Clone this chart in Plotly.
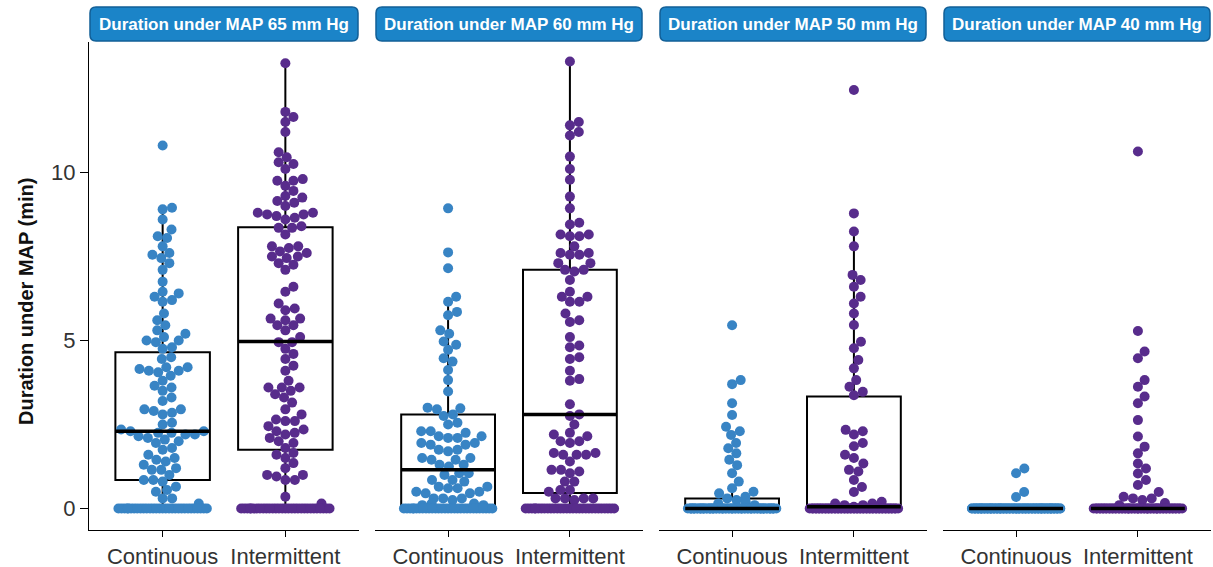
import numpy as np
import plotly.graph_objects as go

# ---------------- data ----------------
panel_titles = ["Duration under MAP 65 mm Hg", "Duration under MAP 60 mm Hg",
                "Duration under MAP 50 mm Hg", "Duration under MAP 40 mm Hg"]
group_labels = ["Continuous", "Intermittent"]

cont_65 = [10.8, 8.95, 8.9, 8.6, 8.3, 8.1, 8.05, 7.8, 7.6, 7.55, 7.45, 7.3, 7.1, 6.75, 6.45, 6.4,
           6.3, 6.2, 6.15, 5.8, 5.6, 5.45, 5.3, 5.2, 5.1, 5.0, 5.0, 4.95, 4.8, 4.75, 4.5, 4.45,
           4.2, 4.2, 4.15, 4.1, 4.1, 4.05, 3.95, 3.8, 3.65, 3.6, 3.5, 3.3, 3.2, 2.95, 2.95, 2.9,
           2.85, 2.8, 2.55, 2.5, 2.35, 2.3, 2.3, 2.25, 2.25, 2.2, 2.2, 2.15, 2.1, 2.05, 2.0, 1.95,
           1.8, 1.75, 1.6, 1.5, 1.45, 1.4, 1.3, 1.2, 1.15, 1.15, 1.0, 0.85, 0.85, 0.8, 0.65, 0.55,
           0.5, 0.3, 0.3, 0.15,
           0, 0, 0, 0, 0, 0, 0, 0, 0, 0, 0, 0, 0, 0, 0, 0, 0, 0, 0, 0, 0, 0, 0, 0, 0, 0, 0, 0,
           0, 0]
int_65 = [13.25, 11.8, 11.65, 11.5, 11.2, 10.6, 10.45, 10.3, 10.25, 10.1, 9.8, 9.75, 9.75, 9.6,
          9.45, 9.3, 9.25, 9.15, 9.1, 9.0, 8.8, 8.8, 8.75, 8.75, 8.7, 8.65, 8.6, 8.4, 8.35, 8.35,
          8.15, 7.8, 7.8, 7.75, 7.65, 7.6, 7.5, 7.5, 7.45, 7.3, 7.25, 7.1, 6.6, 6.45, 6.1, 5.95,
          5.9, 5.65, 5.65, 5.6, 5.45, 5.45, 5.3, 5.1, 4.95, 4.95, 4.75, 4.6, 4.45, 4.25, 4.1, 3.8,
          3.6, 3.6, 3.6, 3.5, 3.4, 3.3, 3.15, 2.95, 2.8, 2.65, 2.6, 2.6, 2.45, 2.35, 2.3, 2.25,
          2.2, 2.1, 2.0, 1.95, 1.8, 1.65, 1.6, 1.5, 1.35, 1.2, 1.0, 1.0, 0.95, 0.85, 0.85, 0.35, 0.15,
          0, 0, 0, 0, 0, 0, 0, 0, 0, 0, 0, 0, 0, 0, 0, 0, 0, 0, 0, 0, 0, 0, 0, 0, 0, 0, 0, 0,
          0, 0]
cont_60 = [8.93, 7.62, 7.15, 6.3, 6.15, 5.85, 5.75, 5.3, 5.2, 4.97, 4.87, 4.72, 4.47, 4.37, 4.12,
           3.82, 3.48, 3.0, 2.98, 2.95, 2.8, 2.75, 2.55, 2.5, 2.3, 2.3, 2.25, 2.15, 2.15, 2.1, 2.1,
           1.95, 1.95, 1.9, 1.9, 1.75, 1.75, 1.7, 1.5, 1.5, 1.45, 1.45, 1.3, 1.3, 1.25, 1.05, 1.05,
           1.0, 0.85, 0.85, 0.8, 0.65, 0.65, 0.6, 0.6, 0.5, 0.5, 0.45, 0.45, 0.3, 0.3, 0.3, 0.25,
           0.15, 0.15, 0.1, 0.1,
           0, 0, 0, 0, 0, 0, 0, 0, 0, 0, 0, 0, 0, 0, 0, 0, 0, 0, 0, 0, 0, 0, 0, 0, 0, 0, 0, 0,
           0, 0]
int_60 = [13.3, 11.5, 11.4, 11.2, 11.1, 10.47, 10.1, 9.78, 9.28, 8.93, 8.5, 8.45, 8.15, 8.15, 8.1,
          8.1, 7.8, 7.6, 7.6, 7.55, 7.55, 7.3, 7.3, 7.1, 7.1, 7.05, 6.8, 6.45, 6.3, 6.3, 6.15, 6.15,
          5.8, 5.6, 5.55, 5.1, 4.85, 4.8, 4.5, 4.45, 4.1, 3.85, 3.8, 3.1, 2.8, 2.75, 2.5, 2.25, 2.2,
          2.15, 2.0, 2.0, 1.95, 1.65, 1.65, 1.6, 1.6, 1.6, 1.4, 1.15, 1.15, 1.1, 1.05, 0.8, 0.8,
          0.55, 0.55, 0.5, 0.3, 0.3, 0.3, 0.3, 0.25,
          0, 0, 0, 0, 0, 0, 0, 0, 0, 0, 0, 0, 0, 0, 0, 0, 0, 0, 0, 0, 0, 0, 0, 0, 0, 0, 0, 0,
          0, 0]
cont_50 = [5.45, 3.82, 3.7, 3.13, 2.78, 2.43, 2.3, 2.19, 1.95, 1.79, 1.64, 1.45, 1.29, 1.05, 0.8,
           0.6, 0.5, 0.45, 0.35, 0.3, 0.25, 0.2, 0.15, 0.1,
           0, 0, 0, 0, 0, 0, 0, 0, 0, 0, 0, 0, 0, 0, 0, 0, 0, 0, 0, 0, 0, 0, 0, 0, 0, 0, 0, 0, 0, 0,
           0, 0, 0, 0, 0, 0, 0, 0, 0, 0, 0, 0, 0, 0, 0, 0, 0, 0, 0, 0, 0, 0, 0, 0, 0, 0, 0, 0, 0, 0,
           0, 0, 0, 0, 0, 0, 0, 0, 0, 0]
int_50 = [12.45, 8.78, 8.24, 7.8, 6.95, 6.8, 6.6, 6.3, 6.1, 5.8, 5.46, 4.96, 4.77, 4.42, 4.17, 3.82,
          3.62, 3.47, 3.37, 2.34, 2.3, 2.2, 1.95, 1.85, 1.6, 1.5, 1.34, 1.15, 1.1, 0.85, 0.64, 0.49,
          0.2, 0.15, 0.15, 0.1, 0.1, 0.05,
          0, 0, 0, 0, 0, 0, 0, 0, 0, 0, 0, 0, 0, 0, 0, 0, 0, 0, 0, 0, 0, 0, 0, 0, 0, 0, 0, 0, 0, 0,
          0, 0, 0, 0, 0, 0, 0, 0, 0, 0, 0, 0, 0, 0, 0, 0, 0, 0, 0, 0, 0, 0, 0, 0, 0, 0]
cont_40 = [1.19, 1.05, 0.49, 0.34,
           0, 0, 0, 0, 0, 0, 0, 0, 0, 0, 0, 0, 0, 0, 0, 0, 0, 0, 0, 0, 0, 0, 0, 0, 0, 0, 0, 0, 0, 0,
           0, 0, 0, 0, 0, 0, 0, 0, 0, 0, 0, 0, 0, 0, 0, 0, 0, 0, 0, 0, 0, 0, 0, 0, 0, 0, 0, 0, 0, 0,
           0, 0, 0, 0, 0, 0, 0, 0, 0, 0, 0, 0, 0, 0, 0, 0, 0, 0, 0, 0, 0, 0, 0, 0, 0, 0, 0, 0, 0, 0]
int_40 = [10.62, 5.28, 4.67, 4.47, 3.82, 3.62, 3.33, 3.13, 2.63, 2.14, 1.84, 1.64, 1.34, 1.19, 1.04,
          0.85, 0.7, 0.49, 0.35, 0.3, 0.3, 0.25, 0.16, 0.1,
          0, 0, 0, 0, 0, 0, 0, 0, 0, 0, 0, 0, 0, 0, 0, 0, 0, 0, 0, 0, 0, 0, 0, 0, 0, 0, 0, 0, 0, 0,
          0, 0, 0, 0, 0, 0, 0, 0, 0, 0, 0, 0, 0, 0, 0, 0, 0, 0, 0, 0, 0, 0, 0, 0, 0, 0, 0, 0, 0, 0]

# box statistics: [lower whisker, Q1, median, Q3, upper whisker]
box_cont_65 = [0, 0.85, 2.3, 4.65, 8.95]
box_int_65 = [0, 1.75, 4.97, 8.37, 13.25]
box_cont_60 = [0, 0, 1.15, 2.8, 6.25]
box_int_60 = [0, 0.46, 2.8, 7.1, 13.3]
box_cont_50 = [0, 0, 0, 0.3, 0.6]
box_int_50 = [0, 0, 0.05, 3.33, 8.24]
box_cont_40 = [0, 0, 0, 0, 0]
box_int_40 = [0, 0, 0, 0, 0]

y_ticks = [0, 5, 10]

panel_values = [(cont_65, int_65), (cont_60, int_60), (cont_50, int_50), (cont_40, int_40)]
panel_boxes = [(box_cont_65, box_int_65), (box_cont_60, box_int_60),
               (box_cont_50, box_int_50), (box_cont_40, box_int_40)]

# ---------------- layout geometry ----------------
FIG_W, FIG_H = 1213, 567
M_L, M_R, M_T, M_B = 89, 2, 42, 37
PLOT_W = FIG_W - M_L - M_R
PLOT_H = FIG_H - M_T - M_B
Y_RANGE = [-0.64, 13.88]
X_RANGE = [-0.6, 1.6]
panel_px = [(89, 359), (375, 643), (659, 927), (943, 1211)]
BOX_W = 0.77
DOT = 10
SWARM_D = 9.5
BAND_HALF = 44.3   # half width (px) of the swarm band for the dot centres
colors = ["#3884c4", "#582c8c"]
FONT = "Liberation Sans, Arial, sans-serif"

px_per_y = PLOT_H / (Y_RANGE[1] - Y_RANGE[0])


def swarm_offsets(values, d, half_w):
    vals = np.asarray(values, dtype=float)
    ys = vals * px_per_y
    xs = np.zeros(len(vals))
    order = np.argsort(vals, kind="stable")
    placed = []
    for idx in order:
        y = ys[idx]
        nb = [(xs[j], ys[j]) for j in placed if abs(ys[j] - y) < d]
        cands = [0.0]
        for xj, yj in nb:
            dx = np.sqrt(d * d - (yj - y) ** 2)
            cands += [xj + dx, xj - dx]
        cands.sort(key=lambda c: (abs(c), -c))
        for c in cands:
            if all((c - xj) ** 2 + (yj - y) ** 2 >= d * d - 1e-6 for xj, yj in nb):
                xs[idx] = c
                break
        placed.append(idx)
    # wrap points that would leave the band back inside it
    out = np.where(np.abs(xs) > half_w, ((xs + half_w) % (2 * half_w)) - half_w, xs)
    return out


fig = go.Figure()
layout_axes = {}
for p in range(4):
    a, b = panel_px[p]
    xname = "x" if p == 0 else f"x{p+1}"
    yname = "y" if p == 0 else f"y{p+1}"
    px_per_x = (b - a) / (X_RANGE[1] - X_RANGE[0])
    # dots
    for g in range(2):
        vals = panel_values[p][g]
        offs = swarm_offsets(vals, SWARM_D, BAND_HALF) / px_per_x
        fig.add_trace(go.Scatter(
            x=g + offs, y=vals, mode="markers", xaxis=xname, yaxis=yname,
            marker=dict(size=DOT, color=colors[g], line=dict(width=0)),
            showlegend=False, hoverinfo="y"))
    # boxes
    for g in range(2):
        lo, q1, med, q3, hi = panel_boxes[p][g]
        fig.add_trace(go.Box(
            x=[g], q1=[q1], median=[med], q3=[q3], lowerfence=[lo], upperfence=[hi],
            width=BOX_W, whiskerwidth=0, boxpoints=False, xaxis=xname, yaxis=yname,
            line=dict(color="black", width=2), fillcolor="rgba(0,0,0,0)",
            showlegend=False, hoverinfo="skip"))
        fig.add_trace(go.Scatter(
            x=[g - BOX_W / 2, g + BOX_W / 2], y=[med, med], mode="lines",
            xaxis=xname, yaxis=yname, line=dict(color="black", width=3.5),
            showlegend=False, hoverinfo="skip"))

    dom = [(a - M_L) / PLOT_W, (b - M_L) / PLOT_W]
    layout_axes["xaxis" if p == 0 else f"xaxis{p+1}"] = dict(
        domain=dom, anchor=yname, range=X_RANGE, tickvals=[0, 1], ticktext=group_labels,
        showline=True, linecolor="black", linewidth=1.2, ticks="outside", ticklen=6,
        tickwidth=1, tickcolor="black", showgrid=False, zeroline=False,
        tickfont=dict(family=FONT, size=22, color="#333333"), fixedrange=True)
    ydict = dict(domain=[0, 1], anchor=xname, range=Y_RANGE, showgrid=False, zeroline=False,
                 fixedrange=True)
    if p == 0:
        ydict.update(tickvals=y_ticks, showline=True, linecolor="black", linewidth=1.2,
                     ticks="outside", ticklen=8, tickwidth=1, tickcolor="black",
                     tickfont=dict(family=FONT, size=22, color="#333333"))
    else:
        ydict.update(showticklabels=False, showline=False, ticks="")
    layout_axes["yaxis" if p == 0 else f"yaxis{p+1}"] = ydict

# strips (rounded boxes) + titles
shapes = []
annotations = []
for p in range(4):
    a, b = panel_px[p]
    x0 = (a + 1 - M_L) / PLOT_W
    x1 = (b - 1 - M_L) / PLOT_W
    y0 = (FIG_H - M_B - 41) / PLOT_H
    y1 = (FIG_H - M_B - 7) / PLOT_H
    rx = 6 / PLOT_W
    ry = 6 / PLOT_H
    path = (f"M {x0+rx},{y0} L {x1-rx},{y0} Q {x1},{y0} {x1},{y0+ry} L {x1},{y1-ry} "
            f"Q {x1},{y1} {x1-rx},{y1} L {x0+rx},{y1} Q {x0},{y1} {x0},{y1-ry} "
            f"L {x0},{y0+ry} Q {x0},{y0} {x0+rx},{y0} Z")
    shapes.append(dict(type="path", path=path, xref="paper", yref="paper",
                       fillcolor="#1b84c8", line=dict(color="#125f96", width=1.5), layer="above"))
    annotations.append(dict(text=f"<b>{panel_titles[p]}</b>", x=(x0 + x1) / 2, y=(y0 + y1) / 2,
                            xref="paper", yref="paper", showarrow=False, xanchor="center",
                            yanchor="middle",
                            font=dict(family=FONT, size=17, color="white")))

annotations.append(dict(text="<b>Duration under MAP (min)</b>", textangle=-90,
                        x=(26 - M_L) / PLOT_W, y=(FIG_H - M_B - 302) / PLOT_H,
                        xref="paper", yref="paper", showarrow=False, xanchor="center",
                        yanchor="middle", font=dict(family=FONT, size=20, color="#111111")))

fig.update_layout(
    width=FIG_W, height=FIG_H,
    margin=dict(l=M_L, r=M_R, t=M_T, b=M_B, autoexpand=False),
    plot_bgcolor="white", paper_bgcolor="white",
    boxmode="overlay", showlegend=False,
    shapes=shapes, annotations=annotations,
    **layout_axes)

fig.write_html("out.html")
